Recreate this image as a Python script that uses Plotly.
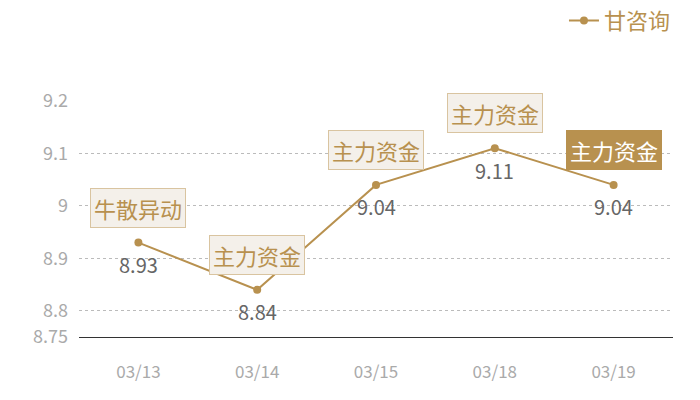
import plotly.graph_objects as go

dates = ["03/13", "03/14", "03/15", "03/18", "03/19"]
values = [8.93, 8.84, 9.04, 9.11, 9.04]
tags = ["牛散异动", "主力资金", "主力资金", "主力资金", "主力资金"]
highlight = [False, False, False, False, True]
series_name = "甘咨询"
y_ticks = [8.75, 8.8, 8.9, 9.0, 9.1, 9.2]
y_tick_text = ["8.75", "8.8", "8.9", "9", "9.1", "9.2"]

GOLD = "#b8914f"
FONT = "Noto Sans CJK SC"

fig = go.Figure()
fig.add_trace(go.Scatter(
    x=dates, y=values, mode="lines+markers", name=series_name,
    line=dict(color=GOLD, width=2),
    marker=dict(color=GOLD, size=8),
))

for d, v in zip(dates, values):
    fig.add_annotation(
        x=d, y=v, xref="x", yref="y", text=f"{v:.2f}", showarrow=False,
        yshift=-22, font=dict(size=20, color="#666666", family=FONT),
    )

for d, v, t, h in zip(dates, values, tags, highlight):
    fig.add_annotation(
        x=d, y=v, xref="x", yref="y", text=t, showarrow=False,
        yshift=35,
        font=dict(size=22, color="#ffffff" if h else GOLD, family=FONT),
        bgcolor=GOLD if h else "#f4f0ea",
        bordercolor=GOLD if h else "#d9c4a0",
        borderwidth=1, borderpad=3,
    )

fig.update_layout(
    width=700, height=400,
    margin=dict(l=71, r=35, t=93, b=71, autoexpand=False),
    paper_bgcolor="white", plot_bgcolor="white",
    font=dict(family=FONT),
    showlegend=True,
    legend=dict(x=1.005, xanchor="right", y=1.34, yanchor="middle",
                font=dict(size=22, color=GOLD, family=FONT),
                bgcolor="rgba(0,0,0,0)", itemwidth=30),
    xaxis=dict(type="category", range=[-0.5, 4.5], showgrid=False,
               showline=True, linecolor="#333333", linewidth=1, ticks="",
               tickfont=dict(size=17, color="#aaaaaa", family=FONT), ticklabelstandoff=20),
    yaxis=dict(range=[8.75, 9.2], tickvals=y_ticks, ticktext=y_tick_text,
               showgrid=True, gridcolor="#bbbbbb", griddash="dot", gridwidth=1,
               zeroline=False, showline=False, ticks="",
               tickfont=dict(size=18, color="#aaaaaa", family=FONT), ticklabelstandoff=10),
)
fig.write_html("out.html")
